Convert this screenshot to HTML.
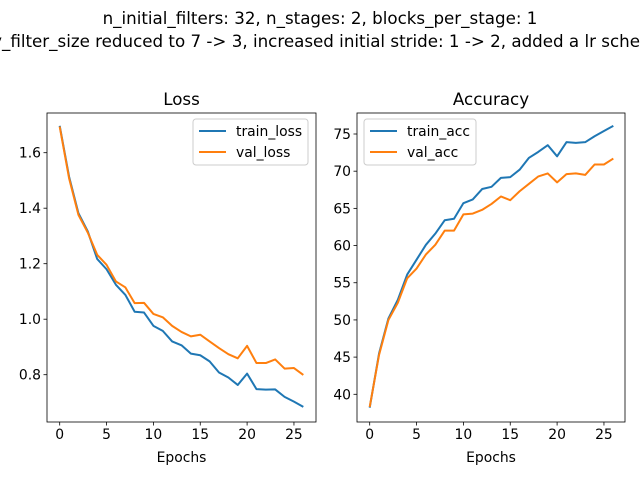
<!DOCTYPE html>
<html><head><meta charset="utf-8"><style>
body{margin:0;background:#fff}
svg{display:block;font-family:"DejaVu Sans","Liberation Sans",sans-serif}
</style></head><body>
<svg id="fig" width="640" height="480" viewBox="0 0 640 480">
<text x="320" y="24" text-anchor="middle" font-size="16.7">n_initial_filters: 32, n_stages: 2, blocks_per_stage: 1</text>
<text x="2" y="47" font-size="16.7">_filter_size reduced to 7 -&gt; 3, increased initial stride: 1 -&gt; 2, added a lr scheduler</text>
<text x="2" y="47" text-anchor="end" font-size="16.7">entry</text>
<g id="g1"></g><g id="g2"></g>
</svg>
<script>
const epochs=[0,1,2,3,4,5,6,7,8,9,10,11,12,13,14,15,16,17,18,19,20,21,22,23,24,25,26];
const trainLoss=[1.697,1.514,1.382,1.316,1.217,1.180,1.124,1.088,1.027,1.024,0.976,0.958,0.920,0.906,0.876,0.870,0.848,0.808,0.790,0.763,0.804,0.748,0.746,0.747,0.720,0.703,0.684];
const valLoss=[1.694,1.508,1.376,1.312,1.232,1.196,1.136,1.115,1.058,1.059,1.019,1.007,0.976,0.954,0.938,0.944,0.920,0.896,0.874,0.859,0.904,0.842,0.842,0.855,0.822,0.824,0.799];
const trainAcc=[38.2,45.5,50.2,52.7,56.1,58.1,60.1,61.6,63.4,63.6,65.7,66.2,67.6,67.9,69.1,69.2,70.2,71.8,72.6,73.5,72.0,73.9,73.8,73.9,74.7,75.4,76.1];
const valAcc=[38.3,45.3,50.0,52.3,55.6,56.9,58.8,60.1,62.0,62.0,64.2,64.3,64.8,65.6,66.6,66.1,67.3,68.3,69.3,69.7,68.5,69.6,69.7,69.5,70.9,70.9,71.7];
const xTicks=[0,5,10,15,20,25];
const lossTicks=[0.8,1.0,1.2,1.4,1.6];
const lossTickLabels=["0.8","1.0","1.2","1.4","1.6"];
const accTicks=[40,45,50,55,60,65,70,75];
const accTickLabels=["40","45","50","55","60","65","70","75"];
const NS="http://www.w3.org/2000/svg";
function el(p,t,a){const e=document.createElementNS(NS,t);for(const k in a)e.setAttribute(k,a[k]);p.appendChild(e);return e;}
function panel(g,box,x0px,xPer,yRef,yRefPx,yPer,yt,ytl,s1,s2,names,title,legX,legW,nm){
  const X=v=>x0px+v*xPer, Y=v=>yRefPx-(v-yRef)*yPer;
  const t=el(g,'text',{x:(box[0]+box[2])/2,y:box[1]-8,'text-anchor':'middle','font-size':16.7});t.textContent=title;
  
  
  [[s1,'#1f77b4',names[0]],[s2,'#ff7f0e',names[1]]].forEach(([s,c,n])=>{
    const p=el(g,'polyline',{points:s.map((v,i)=>X(epochs[i])+','+Y(v)).join(' '),fill:'none',stroke:c,'stroke-width':2,'stroke-linejoin':'round'});
    
    
  });
  const r=el(g,'rect',{x:box[0],y:box[1],width:box[2]-box[0],height:box[3]-box[1],fill:'none',stroke:'#000','stroke-width':0.8});
  
  
  xTicks.forEach(v=>{el(g,'line',{x1:X(v),x2:X(v),y1:box[3],y2:box[3]+3.5,stroke:'#000','stroke-width':0.8});
    const tt=el(g,'text',{x:X(v),y:box[3]+17,'text-anchor':'middle','font-size':13.9});tt.textContent=v;
    
    });
  yt.forEach((v,i)=>{el(g,'line',{x1:box[0]-3.5,x2:box[0],y1:Y(v),y2:Y(v),stroke:'#000','stroke-width':0.8});
    const tt=el(g,'text',{x:box[0]-6,y:Y(v)+5,'text-anchor':'end','font-size':13.9});tt.textContent=ytl[i];
    
    });
  const xl=el(g,'text',{x:(box[0]+box[2])/2,y:box[3]+40,'text-anchor':'middle','font-size':13.9});xl.textContent='Epochs';
  
  
  const lg=el(g,'g',{});
  
  
  el(lg,'rect',{x:legX,y:119,width:legW,height:46,rx:3,fill:'#fff','fill-opacity':0.8,stroke:'#ccc'});
  [['#1f77b4',names[0],131],['#ff7f0e',names[1],152]].forEach(([c,n,yy])=>{
    el(lg,'line',{x1:legX+6,x2:legX+33,y1:yy,y2:yy,stroke:c,'stroke-width':2});
    const lt=el(lg,'text',{x:legX+43,y:yy+5,'font-size':13.9});lt.textContent=n;
    
    
  });
}
panel(document.getElementById('g1'),[47,113,316,422],59.7,9.37,1.6,152.7,277.5,lossTicks,lossTickLabels,trainLoss,valLoss,['train_loss','val_loss'],'Loss',193,115,'loss');
panel(document.getElementById('g2'),[357,113,625,422],369.7,9.37,75,134,7.437,accTicks,accTickLabels,trainAcc,valAcc,['train_acc','val_acc'],'Accuracy',364,112,'accuracy');
</script>
</body></html>
